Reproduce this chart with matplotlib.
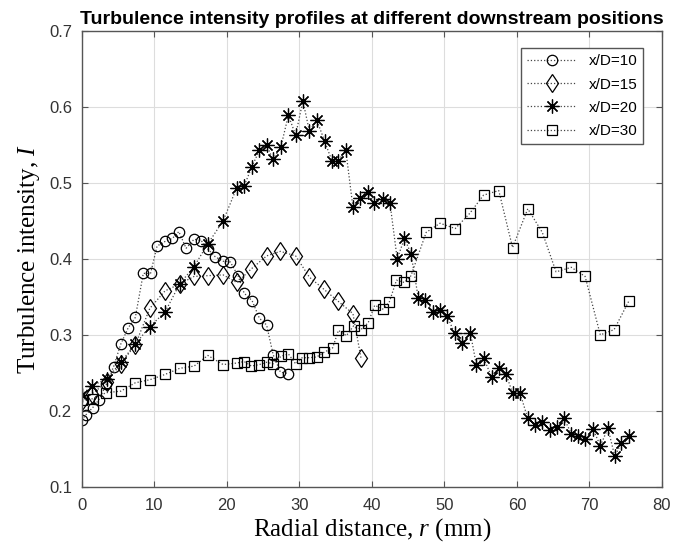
import matplotlib
matplotlib.use("Agg")
import matplotlib.pyplot as plt

plt.rcParams["mathtext.fontset"] = "custom"
plt.rcParams["mathtext.it"] = "Liberation Serif:italic"
plt.rcParams["mathtext.rm"] = "Liberation Serif"

# Values
x10 = [0, 0.6, 1.5, 2.4, 3.4, 4.4, 5.4, 6.4, 7.4, 8.5, 9.5, 10.4, 11.5, 12.5, 13.4,
       14.4, 15.5, 16.5, 17.4, 18.4, 19.5, 20.5, 21.6, 22.4, 23.5, 24.5, 25.5, 26.4,
       27.4, 28.5]
y10 = [0.188, 0.195, 0.204, 0.215, 0.235, 0.258, 0.288, 0.309, 0.323, 0.381, 0.381,
       0.417, 0.423, 0.427, 0.436, 0.414, 0.426, 0.424, 0.413, 0.403, 0.397, 0.396,
       0.377, 0.355, 0.345, 0.322, 0.313, 0.274, 0.251, 0.249]

x15 = [0, 1.4, 3.45, 5.4, 7.4, 9.4, 11.5, 13.5, 15.5, 17.4, 19.5, 21.4, 23.4, 25.5,
       27.4, 29.5, 31.4, 33.4, 35.4, 37.4, 38.5]
y15 = [0.213, 0.222, 0.238, 0.262, 0.287, 0.335, 0.358, 0.367, 0.377, 0.378, 0.379,
       0.369, 0.387, 0.404, 0.410, 0.404, 0.376, 0.360, 0.344, 0.328, 0.270]

x20 = [0, 1.4, 3.45, 5.4, 7.4, 9.4, 11.5, 13.5, 15.5, 17.4, 19.5, 21.4, 22.4, 23.45,
       24.5, 25.5, 26.35, 27.45, 28.5, 29.5, 30.5, 31.4, 32.4, 33.5, 34.5, 35.4, 36.4,
       37.4, 38.4, 39.5, 40.3, 41.5, 42.5, 43.5, 44.5, 45.4, 46.4, 47.4, 48.5, 49.4,
       50.4, 51.4, 52.5, 53.6, 54.4, 55.4, 56.5, 57.5, 58.5, 59.4, 60.45, 61.5, 62.5,
       63.5, 64.5, 65.5, 66.5, 67.5, 68.4, 69.4, 70.5, 71.5, 72.55, 73.5, 74.4, 75.5]
y20 = [0.221, 0.233, 0.242, 0.264, 0.288, 0.311, 0.330, 0.367, 0.390, 0.420, 0.450,
       0.494, 0.496, 0.521, 0.543, 0.550, 0.531, 0.547, 0.589, 0.563, 0.608, 0.568,
       0.583, 0.555, 0.529, 0.529, 0.544, 0.468, 0.480, 0.488, 0.473, 0.479, 0.474,
       0.400, 0.427, 0.407, 0.349, 0.346, 0.330, 0.333, 0.325, 0.302, 0.290, 0.302,
       0.261, 0.270, 0.245, 0.257, 0.249, 0.223, 0.223, 0.190, 0.182, 0.186, 0.175,
       0.179, 0.190, 0.170, 0.167, 0.163, 0.176, 0.154, 0.177, 0.140, 0.158, 0.167]

x30 = [0, 1.5, 3.4, 5.4, 7.4, 9.4, 11.5, 13.5, 15.5, 17.4, 19.5, 21.4, 22.4, 23.4,
       24.5, 25.5, 26.4, 27.5, 28.5, 29.5, 30.4, 31.4, 32.4, 33.4, 34.6, 35.4, 36.5,
       37.5, 38.5, 39.5, 40.4, 41.5, 42.4, 43.4, 44.5, 45.4, 47.5, 49.4, 51.5, 53.5,
       55.4, 57.5, 59.4, 61.5, 63.5, 65.4, 67.5, 69.4, 71.5, 73.4, 75.4]
y30 = [0.214, 0.216, 0.224, 0.226, 0.237, 0.241, 0.248, 0.256, 0.259, 0.273, 0.261,
       0.263, 0.265, 0.259, 0.261, 0.264, 0.262, 0.272, 0.275, 0.262, 0.270, 0.270,
       0.271, 0.277, 0.283, 0.306, 0.299, 0.312, 0.307, 0.316, 0.339, 0.334, 0.343,
       0.372, 0.369, 0.378, 0.435, 0.447, 0.440, 0.460, 0.484, 0.490, 0.415, 0.466,
       0.435, 0.383, 0.389, 0.377, 0.300, 0.307, 0.344]

labels = ["x/D=10", "x/D=15", "x/D=20", "x/D=30"]

fig = plt.figure(figsize=(6.86, 5.44), dpi=100)
ax = fig.add_axes([0.119, 0.105, 0.846, 0.838])

line_kw = dict(linestyle=":", color="#444444", linewidth=0.9,
               markeredgecolor="black", markerfacecolor="none", markeredgewidth=0.9)
ax.plot(x10, y10, marker="o", markersize=7.5, label=labels[0], **line_kw)
ax.plot(x15, y15, marker="d", markersize=9.5, label=labels[1], **line_kw)
ax.plot(x20, y20, marker=(8, 2, 0), markersize=10, label=labels[2], **line_kw)
ax.plot(x30, y30, marker="s", markersize=6.5, label=labels[3], **line_kw)

ax.set_xlim(0, 80)
ax.set_ylim(0.1, 0.7)
ax.set_xticks(range(0, 81, 10))
ax.set_yticks([0.1, 0.2, 0.3, 0.4, 0.5, 0.6, 0.7])
ax.set_yticklabels(["0.1", "0.2", "0.3", "0.4", "0.5", "0.6", "0.7"])

ax.grid(True, color="#dddddd", linewidth=0.8)
ax.set_axisbelow(True)
for s in ax.spines.values():
    s.set_color("#555555")
    s.set_linewidth(1.0)
ax.tick_params(direction="in", top=True, right=True, length=4, width=0.8,
               color="#555555", labelcolor="#333333", labelsize=12)
ax.tick_params(axis="x", pad=8)
ax.tick_params(axis="y", pad=7)
for t in ax.get_xticklabels() + ax.get_yticklabels():
    t.set_family("Liberation Sans")

ax.set_title("Turbulence intensity profiles at different downstream positions",
             fontsize=14, fontweight="bold", family="Liberation Sans", pad=5)
ax.set_xlabel("Radial distance, $r$ (mm)", fontsize=18, family="Liberation Serif",
              labelpad=2)
ax.set_ylabel("Turbulence intensity, $I$", fontsize=18, family="Liberation Serif",
              labelpad=5)

leg = ax.legend(loc="upper right", bbox_to_anchor=(0.968, 0.962), fancybox=False,
                framealpha=1, edgecolor="#555555",
                prop={"family": "Liberation Sans", "size": 11}, handlelength=3.2,
                borderaxespad=0.0, labelspacing=0.6)
leg.get_frame().set_linewidth(1.0)

fig.savefig("out.png", dpi=100)
